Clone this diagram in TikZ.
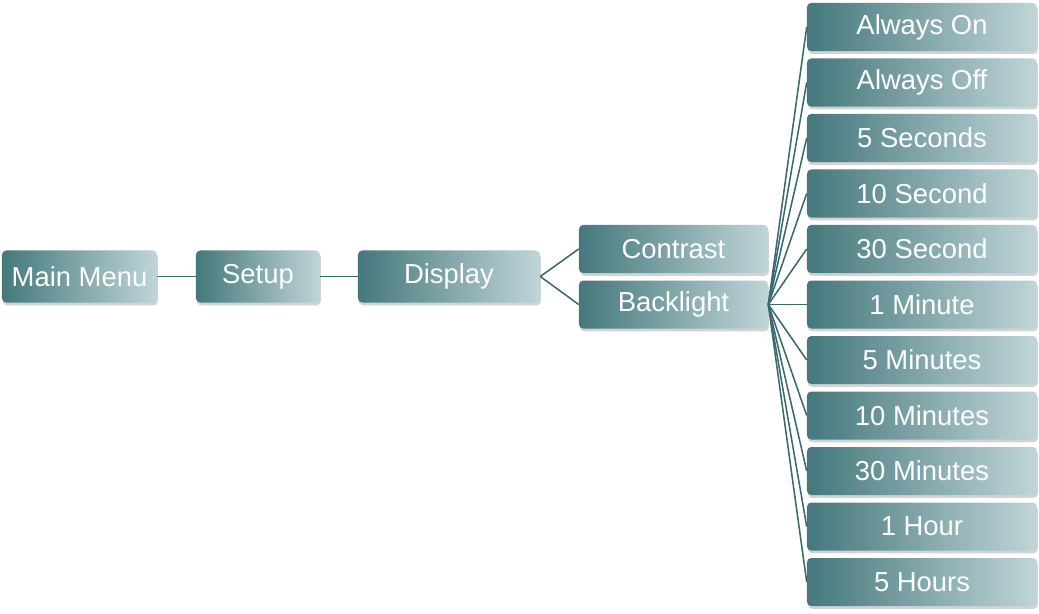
\documentclass[tikz,border=0pt]{standalone}
\usepackage{fontspec}
\setmainfont{Liberation Sans}
\usetikzlibrary{shadows}

\definecolor{tealdark}{RGB}{68,120,124}
\definecolor{teallight}{RGB}{192,213,216}
\definecolor{tealline}{RGB}{58,106,110}

\tikzset{
  menubox/.style={rectangle, rounded corners=3pt, inner sep=0pt,
    left color=tealdark, right color=teallight, text=white,
    minimum height=1.3cm, font=\fontsize{19.5}{23}\selectfont,
    drop shadow={shadow xshift=0.6pt, shadow yshift=-2pt, opacity=0.35}},
  link/.style={tealline, line width=1.1pt},
}

\begin{document}
\begin{tikzpicture}[x=0.025cm, y=-0.025cm]
	\useasboundingbox (0,0) rectangle (1039,613);
	% left part of the tree
	\node[menubox, minimum width=3.875cm] (menu) at (79.5,276.5) {Main Menu};
	\node[menubox, minimum width=3.1cm] (setup) at (258,276.5) {Setup};
	\node[menubox, minimum width=4.55cm] (display) at (449,276.5) {Display};
	\node[menubox, minimum width=4.725cm, minimum height=1.2cm] (contrast) at (673.5,249) {Contrast};
	\node[menubox, minimum width=4.725cm, minimum height=1.2cm] (backlight) at (673.5,304.5) {Backlight};
	% backlight timeouts
	\foreach \lbl [count=\i] in {Always On, Always Off, 5 Seconds, 10 Second, 30 Second,
	    1 Minute, 5 Minutes, 10 Minutes, 30 Minutes, 1 Hour, 5 Hours}
		\node[menubox, minimum width=5.75cm, minimum height=1.2cm] (time\i) at (922,{27+55.5*(\i-1)}) {\lbl};
	\draw[link] (menu.east) -- (setup.west);
	\draw[link] (setup.east) -- (display.west);
	\draw[link] (display.east) -- (contrast.west);
	\draw[link] (display.east) -- (backlight.west);
	\foreach \i in {1,...,11}
		\draw[link] (backlight.east) -- (time\i.west);
\end{tikzpicture}
\end{document}
